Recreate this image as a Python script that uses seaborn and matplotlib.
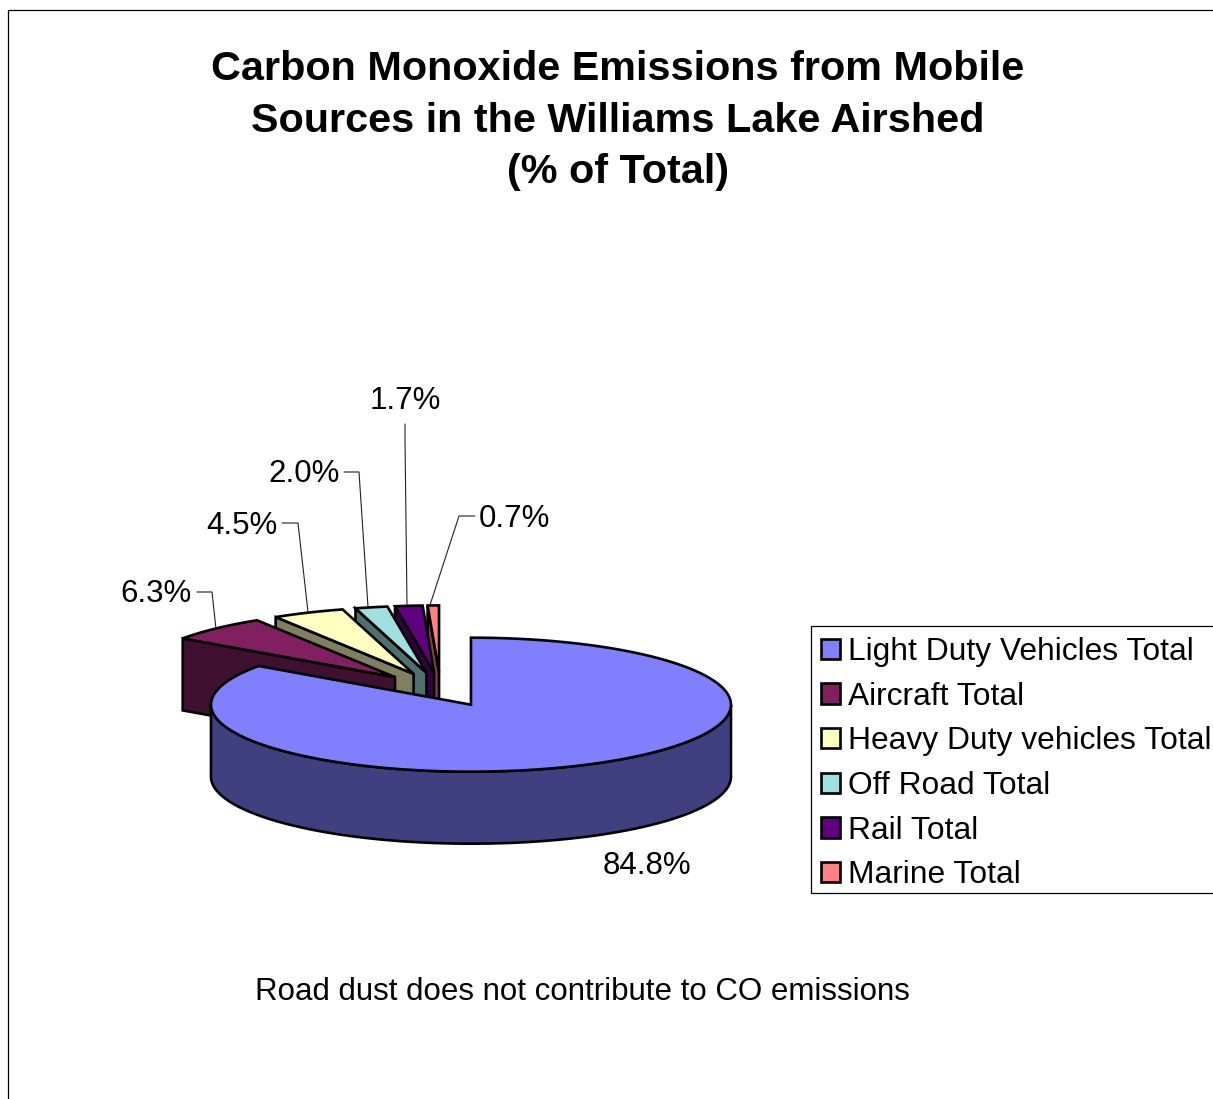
import matplotlib
matplotlib.use("Agg")
import matplotlib.pyplot as plt
from matplotlib.patches import Patch, Polygon, Rectangle
import numpy as np
import seaborn as sns

# Data
sources = ["Light Duty Vehicles Total", "Aircraft Total", "Heavy Duty vehicles Total",
           "Off Road Total", "Rail Total", "Marine Total"]
shares = [84.8, 6.3, 4.5, 2.0, 1.7, 0.7]
slice_colors = ["#8080FF", "#802060", "#FFFFC0", "#A0E0E0", "#600080", "#FF8080"]

title = "Carbon Monoxide Emissions from Mobile\nSources in the Williams Lake Airshed\n(% of Total)"
note = "Road dust does not contribute to CO emissions"

# label anchors and leader lines in px, main slice has no leader
label_pos = [(646.5, 866), (156.5, 594), (242, 525.5), (304, 474), (405.5, 401), (514.5, 519)]
leader_start = [None, (197, 592), (282, 523), (344, 472), (405, 424), (475, 516)]
leader_elbow = [None, (212, 592), (298, 523), (359, 472), (405, 440), (459, 516)]
leader_end = [None, (216, 629), (308, 612), (368, 607), (407, 605), (430, 605)]

# Pie geometry in pixels
CX, CY = 440.5, 689.5
RX, RY = 260, 67
DEPTH = 72
EXPLODE = 0.255
LW = 1.9

sns.set_theme(style="white")
plt.rcParams["font.family"] = ["Liberation Sans", "DejaVu Sans"]
plt.rcParams["text.color"] = "black"


def rim(cx, cy, angles):
    # angles in degrees, clockwise from 12 o'clock
    t = np.radians(angles)
    return np.column_stack([cx + RX * np.sin(t), cy - RY * np.cos(t)])


def draw_slice(ax, start, end, color):
    mid = np.radians((start + end) / 2)
    cx = CX + EXPLODE * RX * np.sin(mid)
    cy = CY - EXPLODE * RY * np.cos(mid)
    side = tuple(c * 0.5 for c in matplotlib.colors.to_rgb(color))
    down = np.array([0, DEPTH])
    tip = np.array([cx, cy])
    style = dict(edgecolor="black", linewidth=LW, joinstyle="miter")

    # cut face on the leading edge
    outer = rim(cx, cy, [start])[0]
    if start > 180:
        ax.add_patch(Polygon([outer, tip, tip + down, outer + down], facecolor=side, **style))

    # front rim
    lo, hi = max(start, 90), min(end, 270)
    if hi > lo:
        arc = rim(cx, cy, np.linspace(lo, hi, 120))
        ax.add_patch(Polygon(np.vstack([arc, (arc + down)[::-1]]), facecolor=side, **style))

    # top
    arc = rim(cx, cy, np.linspace(start, end, 200))
    ax.add_patch(Polygon(np.vstack([tip, arc]), facecolor=color, **style))


fig = plt.figure(figsize=(12.13, 10.99), dpi=100)
ax = fig.add_axes([0, 0, 1, 1])
ax.set_xlim(0, 1213)
ax.set_ylim(1099, 0)
ax.axis("off")

# chart frame runs off the right and bottom of the picture
ax.plot([8, 8, 1213], [1099, 9.5, 9.5], color="black", lw=0.9)

edges = np.cumsum([0] + shares) / sum(shares) * 360
# painter's order: small back slices first, big one last
for i in range(len(shares) - 1, -1, -1):
    draw_slice(ax, edges[i], edges[i + 1], slice_colors[i])

for i, share in enumerate(shares):
    ax.text(*label_pos[i], f"{share:.1f}%", fontsize=22.5, color="black", ha="center", va="center")
    if leader_start[i] is None:
        continue
    xs = [leader_start[i][0], leader_elbow[i][0], leader_end[i][0]]
    ys = [leader_start[i][1], leader_elbow[i][1], leader_end[i][1]]
    ax.plot(xs, ys, color="#222222", lw=0.8, zorder=5)

ax.text(618, 120.5, title, fontsize=29.8, fontweight="bold", color="black",
        ha="center", va="center", linespacing=1.44)
ax.text(582, 992.5, note, fontsize=22.5, color="black", ha="center", va="center")

# legend box is drawn apart, its bottom padding is tighter than the top
ax.add_patch(Rectangle((811, 626), 420, 267, facecolor="white", edgecolor="black", linewidth=0.9))
handles = [Patch(facecolor=c, edgecolor="black", linewidth=LW) for c in slice_colors]
ax.legend(handles, sources, loc="upper left", bbox_to_anchor=(810.5 / 1213, 1 - 627 / 1099),
          fontsize=22.9, frameon=False, borderaxespad=0, borderpad=0.32, handlelength=0.6,
          handleheight=0.6, handletextpad=0.26, labelspacing=0.46, labelcolor="black")

fig.savefig("out.png", dpi=100)
